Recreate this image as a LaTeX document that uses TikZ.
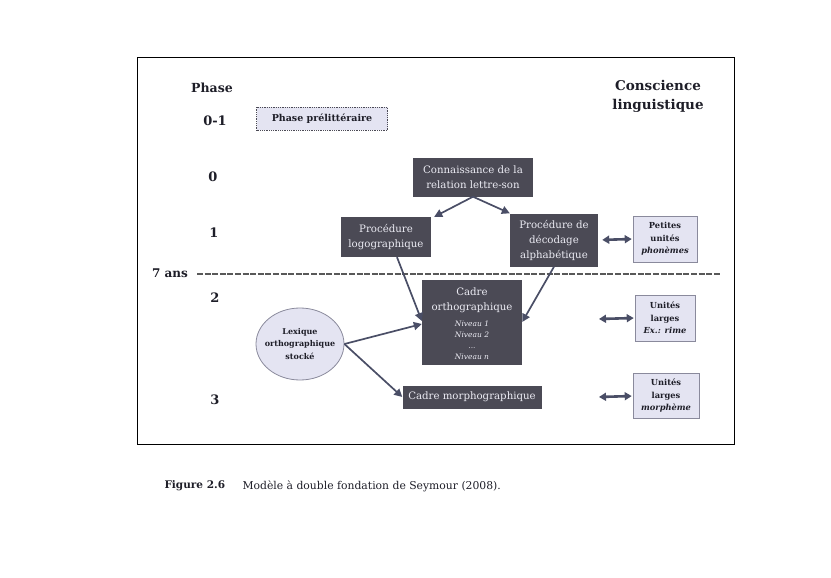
\documentclass[tikz,border=0pt]{standalone}
\usepackage{fontspec}
\setmainfont{DejaVu Serif}
\usetikzlibrary{arrows.meta,shapes.geometric}
\definecolor{boxdark}{HTML}{4B4A55}
\definecolor{boxtext}{HTML}{ECECF4}
\definecolor{lav}{HTML}{E4E4F2}
\definecolor{lavborder}{HTML}{8A8A9C}
\definecolor{arrowc}{HTML}{4A4E66}
\definecolor{txt}{HTML}{1E1E28}
\begin{document}
\begin{tikzpicture}[x=1pt,y=-1pt,
  darkbox/.style={fill=boxdark, text=boxtext, inner sep=0pt, align=center, font=\fontsize{10.2}{15}\selectfont},
  lightbox/.style={fill=lav, draw=lavborder, line width=0.6pt, inner sep=0pt, align=center, text=txt, font=\bfseries\fontsize{8.3}{12.5}\selectfont},
  phasenum/.style={font=\bfseries\fontsize{13}{15}\selectfont, text=txt},
  arr/.style={draw=arrowc, line width=1.7pt, -{Triangle[length=8pt,width=8pt]}},
  dbl/.style={draw=arrowc, line width=2.6pt, {Triangle[length=7pt,width=8pt]}-{Triangle[length=7pt,width=8pt]}},
]
\useasboundingbox (0,0) rectangle (831,578);

% frame
\draw[line width=0.9pt, black] (137,57) rectangle (734,444);

% phase column
\node[font=\bfseries\fontsize{12.5}{14}\selectfont, text=txt] (phase) at (212,88) {Phase};
\node[phasenum] (p01) at (215,121) {0-1};
\node[phasenum] (p0) at (213,177) {0};
\node[phasenum] (p1) at (214,233) {1};
\node[phasenum] (p2) at (215,298) {2};
\node[phasenum] (p3) at (215,400) {3};
\node[font=\bfseries\fontsize{12}{14}\selectfont, text=txt] (sept) at (170,273) {7 ans};

\node[font=\bfseries\fontsize{13.5}{19}\selectfont, text=txt, align=center] (consc) at (658,96) {Conscience\\linguistique};

% dashed 7 ans line
\draw[draw=gray!70!black, line width=2.8pt, dash pattern=on 6pt off 1.6pt] (197,274) -- (720,274);

% phase prelitteraire
\node[fill=lav, draw=boxdark, densely dotted, line width=0.8pt, minimum width=131, minimum height=23, inner sep=0pt, font=\bfseries\fontsize{9.5}{11}\selectfont, text=txt] (prelit) at (322,119) {Phase prélittéraire};

% dark boxes
\node[darkbox, minimum width=120, minimum height=39] (conn) at (473,177) {Connaissance de la\\relation lettre-son};
\node[darkbox, minimum width=90, minimum height=40] (logo) at (386,237) {Procédure\\logographique};
\node[darkbox, minimum width=88, minimum height=53] (alpha) at (554,240) {Procédure de\\décodage\\alphabétique};
\node[darkbox, minimum width=100, minimum height=85] (ortho) at (472,322) {};
\node[text=boxtext, align=center, font=\fontsize{10.2}{15}\selectfont, inner sep=0pt] (orthot) at (472,300) {Cadre\\orthographique};
\node[text=boxtext, align=center, font=\itshape\fontsize{7.5}{11}\selectfont, inner sep=0pt] (orthon) at (472,340) {Niveau 1\\Niveau 2\\...\\Niveau n};
\node[darkbox, minimum width=139, minimum height=23] (morpho) at (472,397) {Cadre morphographique};

% ellipse
\node[ellipse, fill=lav, draw=lavborder, line width=0.8pt, minimum width=88, minimum height=72, inner sep=0pt] (lex) at (300,344) {};
\node[align=center, text=txt, inner sep=0pt, font=\bfseries\fontsize{8}{12.5}\selectfont] (lext) at (lex.center) {Lexique\\orthographique\\stocké};

% light boxes
\node[lightbox, minimum width=64, minimum height=46] (pet) at (665,239) {Petites\\unités\\\textit{phonèmes}};
\node[lightbox, minimum width=60, minimum height=46] (rime) at (665,318) {Unités\\larges\\\textit{Ex.: rime}};
\node[lightbox, minimum width=66, minimum height=45] (morph) at (666,396) {Unités\\larges\\\textit{morphème}};

% arrows
\draw[arr] (conn.south) -- ([xshift=3pt]logo.north east);
\draw[arr] (conn.south) -- (alpha.north west);
\draw[arr] ([xshift=11pt]logo.south) -- ([yshift=1pt]ortho.west);
\draw[arr] (alpha.south) -- (ortho.east);
\draw[arr] (lex.east) -- ([yshift=-2pt]ortho.west);
\draw[arr] (lex.east) -- (morpho.west);

% double arrows
\coordinate (d2) at (599,319);
\coordinate (d3) at (599,397);
\draw[dbl, shorten <=4pt, shorten >=1pt] (alpha.east) -- (pet.west);
\draw[dbl, shorten >=1pt] (d2) -- (rime.west);
\draw[dbl, shorten >=1pt] (d3) -- (morph.west);

% caption
\node[anchor=west, font=\bfseries\fontsize{10.5}{12}\selectfont, text=txt] (figlab) at (161,486) {Figure 2.6};
\node[anchor=west, font=\fontsize{10.8}{12}\selectfont, text=txt] (figcap) at (239,486) {Modèle à double fondation de Seymour (2008).};
\end{tikzpicture}
\end{document}
